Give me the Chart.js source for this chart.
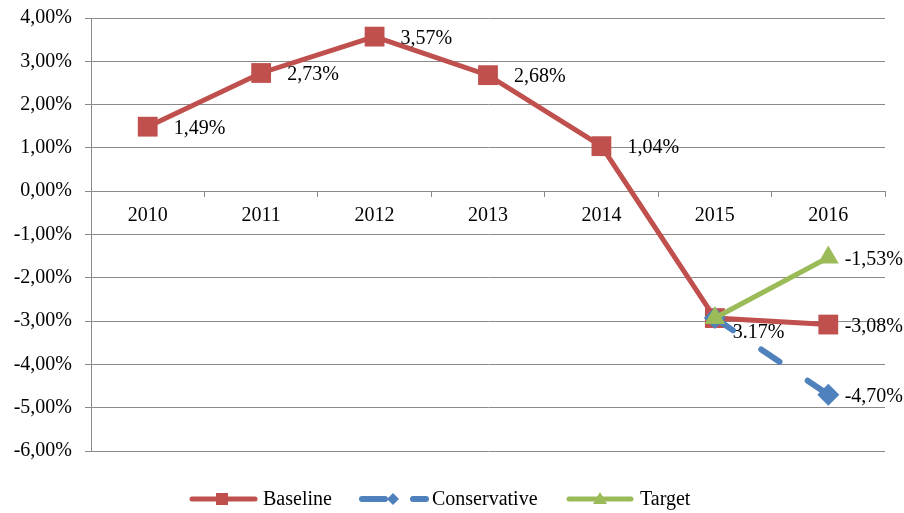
<!DOCTYPE html>
<html>
<head>
<meta charset="utf-8">
<script src="https://cdn.jsdelivr.net/npm/chart.js@4"></script>
<style>
  html, body { margin: 0; padding: 0; background: #fff; }
  #wrap { width: 904px; height: 513px; }
</style>
</head>
<body>
<div id="wrap"><canvas id="myChart" width="904" height="513"></canvas></div>
<script>
const years = ['2010', '2011', '2012', '2013', '2014', '2015', '2016'];
const baseline = [1.49, 2.73, 3.57, 2.68, 1.04, -2.93, -3.08];
const conservative = [null, null, null, null, null, -2.93, -4.70];
const target = [null, null, null, null, null, -2.93, -1.53];
const baselineLabels = ['1,49%', '2,73%', '3,57%', '2,68%', '1,04%', '', '-3,08%'];
const conservativeLabels = ['', '', '', '', '', '3.17%', '-4,70%'];
const targetLabels = ['', '', '', '', '', '', '-1,53%'];
const yTicks = [4, 3, 2, 1, 0, -1, -2, -3, -4, -5, -6];

const RED = '#C0504D', BLUE = '#4F81BD', GREEN = '#9BBB59', GRID = '#8a8a8a';
const FONT = '"Liberation Serif", "Times New Roman", serif';

const ctx = document.getElementById('myChart');

// data labels next to the points
const pointLabels = {
    id: 'pointLabels',
    afterDatasetsDraw(chart) {
        const c = chart.ctx;
        c.save();
        c.font = '20px ' + FONT;
        c.fillStyle = '#000';
        c.textBaseline = 'middle';
        chart.data.datasets.forEach((ds, i) => {
            const meta = chart.getDatasetMeta(i);
            meta.data.forEach((pt, j) => {
                const txt = ds.pointLabels[j];
                if (!txt) return;
                let dx = 26, dy = 2;
                // the 2015 conservative label sits under the marker
                if (ds.label === 'Conservative' && j === 5) { dx = 18; dy = 15; }
                const w = c.measureText(txt).width;
                const x = Math.min(pt.x + dx, chart.width - w - 1);
                c.fillText(txt, x, pt.y + dy);
            });
        });
        c.restore();
    }
};

// legend drawn by hand, line + marker like the original
const bottomLegend = {
    id: 'bottomLegend',
    afterDraw(chart) {
        const c = chart.ctx;
        const y = 499;
        c.save();
        c.lineCap = 'round';

        // Baseline
        c.strokeStyle = RED; c.lineWidth = 5;
        c.beginPath(); c.moveTo(192, y); c.lineTo(255, y); c.stroke();
        c.fillStyle = RED; c.fillRect(216, y - 6, 12, 12);

        // Conservative
        c.strokeStyle = BLUE; c.lineWidth = 6;
        c.beginPath(); c.moveTo(362, y); c.lineTo(385, y); c.stroke();
        c.beginPath(); c.moveTo(413, y); c.lineTo(426, y); c.stroke();
        c.fillStyle = BLUE;
        c.beginPath();
        c.moveTo(393, y - 6); c.lineTo(399, y); c.lineTo(393, y + 6); c.lineTo(387, y);
        c.closePath(); c.fill();

        // Target
        c.strokeStyle = GREEN; c.lineWidth = 5;
        c.beginPath(); c.moveTo(569, y); c.lineTo(631, y); c.stroke();
        c.fillStyle = GREEN;
        c.beginPath();
        c.moveTo(600, y - 7); c.lineTo(607, y + 5); c.lineTo(593, y + 5);
        c.closePath(); c.fill();

        c.fillStyle = '#000';
        c.font = '20px ' + FONT;
        c.textBaseline = 'middle';
        c.fillText('Baseline', 263, y + 1);
        c.fillText('Conservative', 432, y + 1);
        c.fillText('Target', 640, y + 1);
        c.restore();
    }
};

new Chart(ctx, {
    type: 'line',
    data: {
        labels: years,
        datasets: [{
            label: 'Baseline',
            data: baseline,
            pointLabels: baselineLabels,
            borderColor: RED,
            backgroundColor: RED,
            borderWidth: 5,
            pointStyle: 'rect',
            pointRadius: 14,
            pointBorderWidth: 0,
            order: 2,
        }, {
            label: 'Conservative',
            data: conservative,
            pointLabels: conservativeLabels,
            borderColor: BLUE,
            backgroundColor: BLUE,
            borderWidth: 6,
            borderDash: [22, 34],
            borderCapStyle: 'round',
            pointStyle: 'rectRot',
            pointRadius: 11,
            pointBorderWidth: 0,
            order: 1,
        }, {
            label: 'Target',
            data: target,
            pointLabels: targetLabels,
            borderColor: GREEN,
            backgroundColor: GREEN,
            borderWidth: 5,
            pointStyle: 'triangle',
            pointRadius: 12,
            pointBorderWidth: 0,
            order: 0,
        }]
    },
    options: {
        responsive: false,
        animation: false,
        layout: { padding: { left: 0, top: 18, right: 19, bottom: 62 } },
        plugins: {
            legend: { display: false },
            tooltip: { enabled: false },
        },
        scales: {
            x: {
                position: { y: 0 },
                offset: true,
                afterFit: scale => { scale.paddingTop = 0; scale.paddingBottom = 0; },
                grid: { offset: true, drawOnChartArea: false, tickLength: 5, color: GRID },
                border: { color: GRID, width: 1 },
                ticks: { color: '#000', font: { family: FONT, size: 20 }, padding: 8, maxRotation: 0 },
            },
            y: {
                min: -6,
                max: 4,
                afterBuildTicks: scale => { scale.ticks = yTicks.map(v => ({ value: v })); },
                afterFit: scale => { scale.width = 91; scale.paddingTop = 0; scale.paddingBottom = 0; },
                grid: { color: GRID, tickLength: 6 },
                border: { color: GRID, width: 1 },
                ticks: {
                    color: '#000',
                    font: { family: FONT, size: 20 },
                    padding: 13,
                    callback: v => v.toFixed(2).replace('.', ',') + '%',
                },
            }
        }
    },
    plugins: [pointLabels, bottomLegend]
});
</script>
</body>
</html>
